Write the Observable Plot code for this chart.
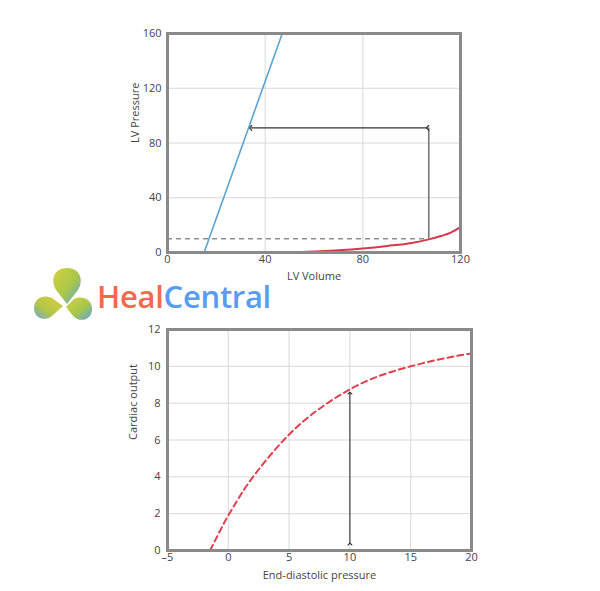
<!DOCTYPE html>
<html>
<head>
<meta charset="utf-8">
<script src="https://cdn.jsdelivr.net/npm/d3@7"></script>
<script src="https://cdn.jsdelivr.net/npm/@observablehq/plot@0.6"></script>
<style>
  html, body { margin: 0; padding: 0; background: #fff; }
  #wrap { position: relative; width: 600px; height: 591px; overflow: hidden; font-family: "Open Sans", "Noto Sans", sans-serif; }
  #topChart, #bottomChart { position: absolute; left: 0; }
  #topChart { top: 0; }
  #bottomChart { top: 300px; }
  #logo { position: absolute; left: 30px; top: 264px; width: 250px; height: 64px; }
  #logo .txt { position: absolute; left: 67px; top: 17px; font-size: 31px; font-weight: 600; letter-spacing: -0.3px; white-space: nowrap; line-height: 1; }
</style>
</head>
<body>
<div id="wrap">
  <div id="topChart"></div>
  <div id="bottomChart"></div>
  <div id="logo">
    <svg width="66" height="64" viewBox="0 0 66 64">
      <defs>
        <linearGradient id="g1" x1="0" y1="0" x2="1" y2="1">
          <stop offset="0" stop-color="#d7cf3f"/>
          <stop offset="0.55" stop-color="#a8c74a"/>
          <stop offset="1" stop-color="#5fa2dc"/>
        </linearGradient>
        <linearGradient id="g2" x1="1" y1="0" x2="0" y2="1">
          <stop offset="0" stop-color="#d7cf3f"/>
          <stop offset="0.6" stop-color="#b4c646"/>
          <stop offset="1" stop-color="#6aa6d8"/>
        </linearGradient>
      </defs>
      <path d="M37 4 C50 4 54 16 48 26 L37 40 L26 26 C20 16 24 4 37 4 Z" fill="url(#g1)"/>
      <path d="M4 44 C4 34 14 30 22 34 L33 42 L22 52 C14 58 4 54 4 44 Z" fill="url(#g2)"/>
      <path d="M62 45 C62 35 52 31 44 35 L36 43 L44 53 C52 59 62 55 62 45 Z" fill="url(#g1)"/>
    </svg>
    <div class="txt"><span style="color:#f06a4e">Heal</span><span style="color:#5a9cf0">Central</span></div>
  </div>
</div>
<script>
// ---- Top chart data (LV pressure-volume) ----
const espvrVolume = [15, 47];
const espvrPressure = [0, 160];
const edpvrVolume = [50, 60, 70, 80, 90, 100, 107, 112, 116, 120];
const edpvrPressure = [0, 0.8, 1.7, 3, 4.8, 7, 9.6, 12, 14.5, 18.5];
const strokeVolume = [34, 107];   // horizontal arrow extent
const arrowPressure = 91;
const edPressure = 10;
const edVolume = 107;
const topXTicks = [0, 40, 80, 120];
const topYTicks = [0, 40, 80, 120, 160];

// ---- Bottom chart data (Frank-Starling curve) ----
const edpValues = [-1.5, -0.5, 0, 1, 2.5, 5, 7.5, 10, 12.5, 15, 17.5, 20];
const coValues = [0, 1.3, 1.9, 3.0, 4.4, 6.3, 7.7, 8.75, 9.5, 10.0, 10.4, 10.7];
const arrowEdp = 10;
const arrowCo = [0.35, 8.55];
const botXTicks = [-5, 0, 5, 10, 15, 20];
const botYTicks = [0, 2, 4, 6, 8, 10, 12];

const espvr = espvrVolume.map((v, i) => ({v, p: espvrPressure[i]}));
const edpvr = edpvrVolume.map((v, i) => ({v, p: edpvrPressure[i]}));
const starling = edpValues.map((x, i) => ({x, y: coValues[i]}));

const tickFont = {fontSize: 11, fill: "#444"};
const gridColor = "#d8d8d8";
const frameColor = "#8a8a8a";

const topPlot = Plot.plot({
  width: 600, height: 290,
  marginLeft: 167, marginRight: 140, marginTop: 33, marginBottom: 38,
  style: {fontFamily: "Open Sans, Noto Sans, sans-serif", fontSize: "11px", color: "#444", background: "white"},
  x: {domain: [0, 120]},
  y: {domain: [0, 160]},
  marks: [
    Plot.gridX(topXTicks.slice(1, -1), {stroke: gridColor, strokeOpacity: 1}),
    Plot.gridY(topYTicks.slice(1, -1), {stroke: gridColor, strokeOpacity: 1}),
    Plot.ruleY([edPressure], {x1: 0, x2: edVolume, stroke: "#555", strokeDasharray: "5,4", strokeWidth: 1}),
    Plot.ruleX([edVolume], {y1: edPressure, y2: arrowPressure, stroke: "#777", strokeWidth: 1.6}),
    Plot.link([{}], {x1: strokeVolume[1] - 0.5, x2: strokeVolume[0], y1: arrowPressure, y2: arrowPressure, stroke: "#333", strokeWidth: 1.2, markerStart: "arrow", markerEnd: "arrow"}),
    Plot.line(espvr, {x: "v", y: "p", stroke: "#5ba4cf", strokeWidth: 1.6}),
    Plot.line(edpvr, {x: "v", y: "p", stroke: "#d2394a", strokeWidth: 2, curve: "monotone-x"}),
    Plot.frame({stroke: frameColor, strokeWidth: 3}),
    Plot.axisX(topXTicks, {tickSize: 0, tickPadding: 3, ...tickFont, label: null}),
    Plot.axisY(topYTicks, {tickSize: 0, tickPadding: 6, ...tickFont, label: null}),
    Plot.text(["LV Volume"], {frameAnchor: "bottom", dy: 27, fontSize: 11, fill: "#444"}),
    Plot.text(["LV Pressure"], {frameAnchor: "left", dx: -32, rotate: -90, fontSize: 11, fill: "#444"})
  ]
});
document.getElementById("topChart").appendChild(topPlot);

const bottomPlot = Plot.plot({
  width: 600, height: 291,
  marginLeft: 167, marginRight: 129, marginTop: 29, marginBottom: 41,
  style: {fontFamily: "Open Sans, Noto Sans, sans-serif", fontSize: "11px", color: "#444", background: "white"},
  x: {domain: [-5, 20]},
  y: {domain: [0, 12]},
  marks: [
    Plot.gridX(botXTicks.slice(1, -1), {stroke: gridColor, strokeOpacity: 1}),
    Plot.gridY(botYTicks.slice(1, -1), {stroke: gridColor, strokeOpacity: 1}),
    Plot.line(starling, {x: "x", y: "y", stroke: "#e0404e", strokeWidth: 2, strokeDasharray: "6,4", curve: "natural"}),
    Plot.link([{}], {x1: arrowEdp, x2: arrowEdp, y1: arrowCo[0], y2: arrowCo[1], stroke: "#222", strokeWidth: 1, markerStart: "arrow", markerEnd: "arrow"}),
    Plot.frame({stroke: frameColor, strokeWidth: 3}),
    Plot.axisX(botXTicks, {tickSize: 0, tickPadding: 3, ...tickFont, label: null, tickFormat: d => d < 0 ? "\u2013" + Math.abs(d) : String(d)}),
    Plot.axisY(botYTicks, {tickSize: 0, tickPadding: 7, ...tickFont, label: null}),
    Plot.text(["End-diastolic pressure"], {frameAnchor: "bottom", dy: 28, fontSize: 11, fill: "#444"}),
    Plot.text(["Cardiac output"], {frameAnchor: "left", dx: -34, rotate: -90, fontSize: 11, fill: "#444"})
  ]
});
document.getElementById("bottomChart").appendChild(bottomPlot);
</script>
</body>
</html>
